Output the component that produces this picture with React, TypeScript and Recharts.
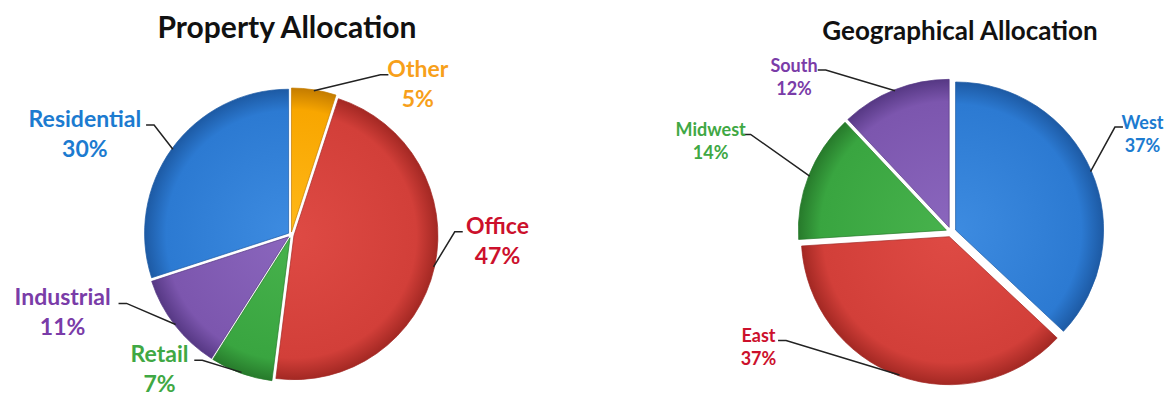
import React from 'react'
import { PieChart, Pie, Sector } from 'recharts'

// Property allocation, clockwise from 12 o'clock
const propertyNames = ['Other', 'Office', 'Retail', 'Industrial', 'Residential']
const propertyValues = [5, 47, 7, 11, 30]

// Geographical allocation, clockwise from 12 o'clock
const geoNames = ['West', 'East', 'Midwest', 'South']
const geoValues = [37, 37, 14, 12]

const propertyData = propertyNames.map((name, i) => ({ name, value: propertyValues[i] }))
const geoData = geoNames.map((name, i) => ({ name, value: geoValues[i] }))

const FONT = 'Lato, "Open Sans", sans-serif'
const RAD = Math.PI / 180

// slice shading: light centre, base, dark rim
const SHADES: Record<string, [string, string, string]> = {
  blue: ['#3d8be0', '#2c7ad2', '#1d5aa4'],
  red: ['#de4a44', '#d23f39', '#a32823'],
  green: ['#47b24c', '#39a540', '#277a2b'],
  purple: ['#8a66bd', '#7c56ae', '#563884'],
  orange: ['#ffb818', '#f8a600', '#c47c00'],
}

const TEXT: Record<string, string> = {
  blue: '#1c7bd0',
  red: '#cc102c',
  green: '#3fa844',
  purple: '#7a3ca8',
  orange: '#f7a01a',
}

const propertyColors = ['orange', 'red', 'green', 'purple', 'blue']
const geoColors = ['blue', 'red', 'green', 'purple']

// where each label block sits relative to the slice edge point
const nudge: Record<string, [number, number]> = {
  Other: [104, -23],
  Office: [64, -42],
  Retail: [-82, -19],
  Industrial: [-113, -28],
  Residential: [-88, -31],
  West: [52, -50],
  East: [-141, -40],
  Midwest: [-99, -47],
  South: [-101, -26],
}

function makeLabel(colors: string[], explode: number, fontSize: number, gid: string) {
  return (p: any) => {
    const { cx, cy, outerRadius, startAngle, endAngle, midAngle, index, name, value } = p
    const shade = SHADES[colors[index]]
    const dx = Math.cos(midAngle * RAD)
    const dy = -Math.sin(midAngle * RAD)
    const ox = cx + dx * explode
    const oy = cy + dy * explode
    const ex = ox + dx * (outerRadius - 1)
    const ey = oy + dy * (outerRadius - 1)
    const [nx, ny] = nudge[name] || [0, 0]
    const tx = ex + nx
    const ty = ey + ny
    const halfW = (name.length * fontSize * 0.46) / 2
    const right = nx > 0
    const lx = right ? tx - halfW - 3 : tx + halfW + 3
    const ly = ty + fontSize * 0.3
    const kx = right ? lx - 8 : lx + 8
    const id = `${gid}-${index}`
    return (
      <g>
        <defs>
          <radialGradient id={id} gradientUnits="userSpaceOnUse" cx={ox} cy={oy} r={outerRadius}>
            <stop offset="0%" stopColor={shade[0]} />
            <stop offset="85%" stopColor={shade[1]} />
            <stop offset="100%" stopColor={shade[2]} />
          </radialGradient>
        </defs>
        <Sector
          cx={ox}
          cy={oy}
          innerRadius={0}
          outerRadius={outerRadius}
          startAngle={startAngle}
          endAngle={endAngle}
          fill={`url(#${id})`}
          stroke={shade[2]}
          strokeWidth={1}
          strokeOpacity={0.7}
        />
        <polyline points={`${lx},${ly} ${kx},${ly} ${ex},${ey}`} fill="none" stroke="#222" strokeWidth={1.5} />
        <text x={tx} y={ty} textAnchor="middle" dominantBaseline="central"
          fontFamily={FONT} fontWeight={700} fontSize={fontSize} fill={TEXT[colors[index]]}>
          {name}
        </text>
        <text x={tx} y={ty + fontSize * 1.3} textAnchor="middle" dominantBaseline="central"
          fontFamily={FONT} fontWeight={700} fontSize={fontSize} fill={TEXT[colors[index]]}>
          {value}%
        </text>
      </g>
    )
  }
}

export default function App() {
  return (
    <div style={{ position: 'absolute', left: 0, top: 0, background: '#fff' }}>
      <PieChart width={1173} height={400}>
        <text x={287} y={26} textAnchor="middle" dominantBaseline="central"
          fontFamily={FONT} fontWeight={700} fontSize={30} fill="#111">
          Property Allocation
        </text>
        <text x={960} y={30} textAnchor="middle" dominantBaseline="central"
          fontFamily={FONT} fontWeight={700} fontSize={26} fill="#111">
          Geographical Allocation
        </text>
        <Pie
          data={propertyData}
          dataKey="value"
          nameKey="name"
          cx={286}
          cy={230}
          outerRadius={144}
          startAngle={90}
          endAngle={-270}
          fill="none"
          stroke="none"
          labelLine={false}
          label={makeLabel(propertyColors, 3, 23, 'prop')}
          isAnimationActive={false}
        />
        <Pie
          data={geoData}
          dataKey="value"
          nameKey="name"
          cx={946}
          cy={227}
          outerRadius={148}
          startAngle={90}
          endAngle={-270}
          fill="none"
          stroke="none"
          labelLine={false}
          label={makeLabel(geoColors, 5, 18, 'geo')}
          isAnimationActive={false}
        />
      </PieChart>
    </div>
  )
}
